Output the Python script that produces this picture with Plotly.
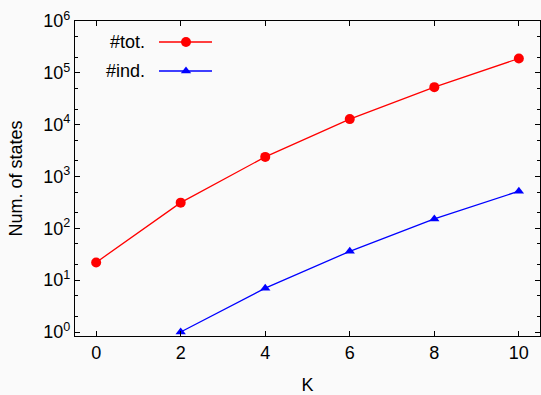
import plotly.graph_objects as go

# Number of states versus K
k_tot = [0, 2, 4, 6, 8, 10]
n_tot = [22, 313, 2390, 12800, 53000, 189000]
k_ind = [2, 4, 6, 8, 10]
n_ind = [1, 7, 36, 152, 520]

series_names = ["#tot.", "#ind."]
series_colors = ["#ff0000", "#0000ff"]
series_symbols = ["circle", "triangle-up"]

x_ticks = [0, 2, 4, 6, 8, 10]
y_ticks = [1, 10, 100, 1000, 10000, 100000, 1000000]
y_ticklabels = ["10<sup>%d</sup>" % i for i in range(7)]
y_minor = [m * 10 ** e for e in range(6) for m in (2, 5)]

FONT = "Liberation Sans, Arial, sans-serif"
FS = 18
BG = "#fafafa"

fig = go.Figure()

for kx, ny, name, col, sym in zip([k_tot, k_ind], [n_tot, n_ind],
                                  series_names, series_colors, series_symbols):
    fig.add_trace(go.Scatter(
        x=kx, y=ny, mode="lines+markers", name=name,
        line=dict(color=col, width=1.3),
        marker=dict(symbol=sym, size=10 if sym == "circle" else 9, color=col),
        showlegend=False, cliponaxis=False,
    ))

# Key in the upper left: label on the left, line sample with marker on the right
key_y = [42, 71]
for name, col, sym, yy in zip(series_names, series_colors, series_symbols, key_y):
    fig.add_trace(go.Scatter(
        x=[159, 212], y=[yy, yy], mode="lines", line=dict(color=col, width=1.3),
        xaxis="x2", yaxis="y2", showlegend=False, hoverinfo="skip"))
    fig.add_trace(go.Scatter(
        x=[186], y=[yy], mode="markers",
        marker=dict(symbol=sym, size=10 if sym == "circle" else 9, color=col),
        xaxis="x2", yaxis="y2", showlegend=False, hoverinfo="skip"))
    fig.add_annotation(x=147, y=yy, xref="x2", yref="y2", text=name,
                       showarrow=False, xanchor="right", yanchor="middle",
                       font=dict(family=FONT, size=FS, color="black"))

axis_common = dict(
    showgrid=False, zeroline=False, showline=True, linecolor="black",
    linewidth=1.3, mirror="ticks", ticks="inside", ticklen=5, tickwidth=1,
    tickcolor="black", tickfont=dict(family=FONT, size=FS, color="black"),
)

fig.update_layout(
    width=541, height=395,
    margin=dict(l=75, r=1, t=21, b=59),
    paper_bgcolor=BG, plot_bgcolor=BG,
    font=dict(family=FONT, size=FS, color="black"),
    xaxis=dict(
        range=[-0.5, 10.5], tickvals=x_ticks, ticktext=[str(v) for v in x_ticks],
        title=dict(text="K", font=dict(family=FONT, size=FS), standoff=17),
        **axis_common),
    yaxis=dict(
        type="log", range=[-0.077, 6], tickvals=y_ticks, ticktext=y_ticklabels,
        title=dict(text="Num. of states", font=dict(family=FONT, size=FS), standoff=15),
        minor=dict(tickvals=y_minor, ticks="inside", ticklen=3, tickcolor="black"),
        **axis_common),
    xaxis2=dict(overlaying="x", range=[75, 540], visible=False, fixedrange=True),
    yaxis2=dict(overlaying="y", range=[336, 21], visible=False, fixedrange=True),
)

fig.write_html("out.html")
